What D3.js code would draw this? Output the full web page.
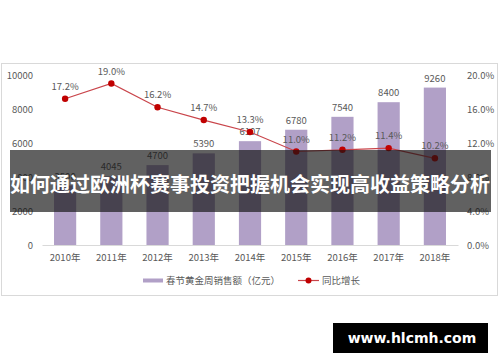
<!DOCTYPE html>
<html>
<head>
<meta charset="utf-8">
<script src="https://cdn.jsdelivr.net/npm/d3@7"></script>
<style>
  body { margin: 0; background: #fff; }
  svg { display: block; }
</style>
</head>
<body>
<script>
const years = ["2010年", "2011年", "2012年", "2013年", "2014年", "2015年", "2016年", "2017年", "2018年"];
const sales = [3500, 4045, 4700, 5390, 6107, 6780, 7540, 8400, 9260];
const growth = [17.2, 19.0, 16.2, 14.7, 13.3, 11.0, 11.2, 11.4, 10.2];
const leftTicks = [0, 2000, 4000, 6000, 8000, 10000];
const rightTicks = [0, 4, 8, 12, 16, 20];

const width = 500, height = 362;
const font = "'Noto Sans CJK SC', 'Open Sans', sans-serif";
const textColor = "#595959";

const svg = d3.select("body").append("svg")
  .attr("width", width)
  .attr("height", height);

// chart frame
svg.append("rect")
  .attr("x", 1.5).attr("y", 63.5)
  .attr("width", 496).attr("height", 232)
  .attr("fill", "#fff")
  .attr("stroke", "#d9d9d9");

const x = d3.scaleBand()
  .domain(years)
  .range([42, 458])
  .paddingInner(0.52)
  .paddingOuter(0.26);

const y = d3.scaleLinear().domain([0, 10000]).range([245, 75]);
const y2 = d3.scaleLinear().domain([0, 20]).range([245, 75]);

// left axis
const leftAxis = svg.append("g")
  .attr("transform", "translate(33,0)")
  .call(d3.axisLeft(y).tickValues(leftTicks).tickSize(0).tickPadding(0)
    .tickFormat(d3.format("d")));
leftAxis.select(".domain").remove();
leftAxis.selectAll("text")
  .attr("fill", textColor)
  .style("font-family", font)
  .style("font-size", "9.5px");

// right axis
const rightAxis = svg.append("g")
  .attr("transform", "translate(467,0)")
  .call(d3.axisRight(y2).tickValues(rightTicks).tickSize(0).tickPadding(0)
    .tickFormat(d => d.toFixed(1) + "%"));
rightAxis.select(".domain").remove();
rightAxis.selectAll("text")
  .attr("fill", textColor)
  .style("font-family", font)
  .style("font-size", "9.5px");

// bottom axis
const bottomAxis = svg.append("g")
  .attr("transform", `translate(0,${y(0)})`)
  .call(d3.axisBottom(x).tickSize(0).tickPadding(9));
bottomAxis.select(".domain").attr("stroke", "#d9d9d9");
bottomAxis.selectAll("text")
  .attr("fill", textColor)
  .style("font-family", font)
  .style("font-size", "9.5px");

// bars
svg.append("g")
  .selectAll("rect")
  .data(sales)
  .join("rect")
  .attr("x", (d, i) => x(years[i]))
  .attr("y", d => y(d))
  .attr("width", x.bandwidth())
  .attr("height", d => y(0) - y(d))
  .attr("fill", "#b1a0c7");

svg.append("g")
  .selectAll("text")
  .data(sales)
  .join("text")
  .attr("x", (d, i) => x(years[i]) + x.bandwidth() / 2)
  .attr("y", d => y(d) - 6)
  .attr("text-anchor", "middle")
  .attr("fill", textColor)
  .style("font-family", font)
  .style("font-size", "9.5px")
  .text(d => d);

// growth line
const cx = (d, i) => x(years[i]) + x.bandwidth() / 2;
const line = d3.line().x((d, i) => cx(d, i)).y(d => y2(d));

svg.append("path")
  .datum(growth)
  .attr("d", line)
  .attr("fill", "none")
  .attr("stroke", "#c9444a")
  .attr("stroke-width", 1.2);

svg.append("g")
  .selectAll("circle")
  .data(growth)
  .join("circle")
  .attr("cx", cx)
  .attr("cy", d => y2(d))
  .attr("r", 3.2)
  .attr("fill", "#c00000");

svg.append("g")
  .selectAll("text")
  .data(growth)
  .join("text")
  .attr("x", cx)
  .attr("y", d => y2(d) - 9)
  .attr("text-anchor", "middle")
  .attr("fill", textColor)
  .style("font-family", font)
  .style("font-size", "9.5px")
  .text(d => d.toFixed(1) + "%");

// legend
const legend = svg.append("g").style("font-family", font).style("font-size", "9.5px");
legend.append("rect")
  .attr("x", 143).attr("y", 278.5)
  .attr("width", 20).attr("height", 4)
  .attr("fill", "#b1a0c7");
legend.append("text")
  .attr("x", 166).attr("y", 284)
  .attr("fill", textColor)
  .text("春节黄金周销售额（亿元）");
legend.append("line")
  .attr("x1", 298).attr("x2", 319)
  .attr("y1", 280.5).attr("y2", 280.5)
  .attr("stroke", "#c9444a").attr("stroke-width", 1.2);
legend.append("circle")
  .attr("cx", 308.5).attr("cy", 280.5).attr("r", 3)
  .attr("fill", "#c00000");
legend.append("text")
  .attr("x", 322).attr("y", 284)
  .attr("fill", textColor)
  .text("同比增长");

// title banner
svg.append("rect")
  .attr("x", 10).attr("y", 150)
  .attr("width", 481).attr("height", 62)
  .attr("fill", "rgba(20,20,20,0.67)");
svg.append("text")
  .attr("x", 250).attr("y", 191.5)
  .attr("text-anchor", "middle")
  .attr("fill", "#fff")
  .style("font-family", "'Noto Sans CJK SC', sans-serif")
  .style("font-weight", "bold")
  .style("font-size", "20px")
  .text("如何通过欧洲杯赛事投资把握机会实现高收益策略分析");

// watermark
svg.append("rect")
  .attr("x", 333).attr("y", 323)
  .attr("width", 155).attr("height", 30)
  .attr("fill", "#000");
svg.append("text")
  .attr("x", 412).attr("y", 343)
  .attr("text-anchor", "middle")
  .attr("fill", "#fff")
  .style("font-family", "'DejaVu Sans', sans-serif")
  .style("font-weight", "bold")
  .style("font-size", "14px")
  .text("www.hlcmh.com");
</script>
</body>
</html>
